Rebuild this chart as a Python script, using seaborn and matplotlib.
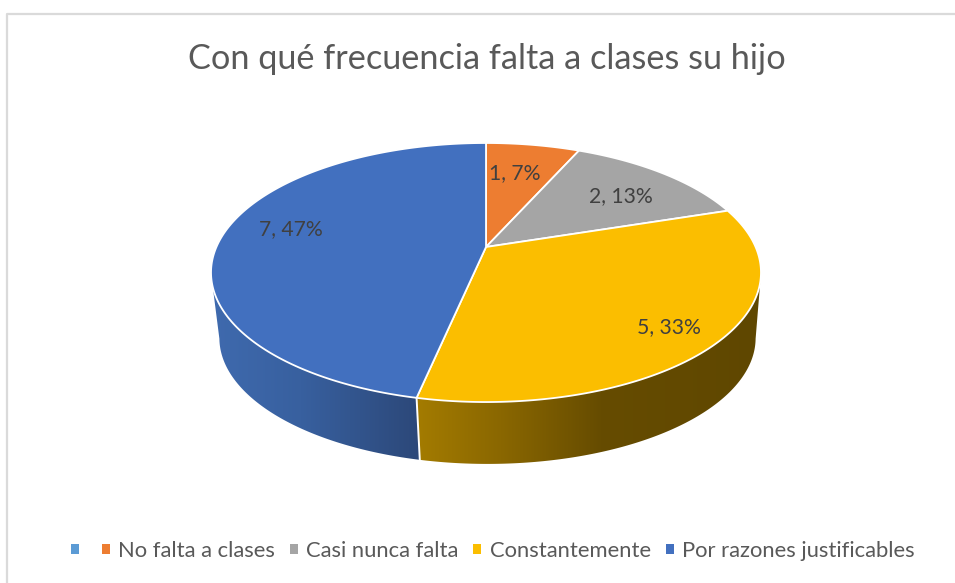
import numpy as np
import matplotlib
matplotlib.use('Agg')
import matplotlib.pyplot as plt
from matplotlib.colors import to_rgb
from matplotlib.patches import Patch, Polygon
import seaborn as sns

# Data
categories = ['', 'No falta a clases', 'Casi nunca falta', 'Constantemente', 'Por razones justificables']
counts = [0, 1, 2, 5, 7]
title = 'Con qué frecuencia falta a clases su hijo'

# Colours
palette = sns.color_palette(['#5B9BD5', '#ED7D31', '#A5A5A5', '#FBBE00', '#4270BF'])
text_color = '#404040'
title_color = '#595959'
frame_color = '#DADADA'

# Side wall shading, (x pixel, colour) stops; other slices are hidden behind the top
wall_shades = {
    3: [(418, '#A37B00'), (500, '#8A6700'), (600, '#664C00'), (760, '#5F4700')],
    4: [(212, '#3F6AAE'), (300, '#38609F'), (418, '#2C4879')],
}

# Label positions on the pie, in pixels
label_pos = {1: (515, 173), 2: (621, 196), 3: (669, 327), 4: (291, 229)}

sns.set_theme(style='white')
plt.rcParams['font.family'] = ['Lato', 'DejaVu Sans']

fig = plt.figure(figsize=(9.55, 5.83), dpi=100)
ax = fig.add_axes([0, 0, 1, 1])
ax.axis('off')

TILT = 0.197


# Perspective view of the disc: angle measured clockwise from 12 o'clock
def top_rim(theta):
    u, v = np.sin(theta), np.cos(theta)
    d = 1 + TILT * v
    return 486 + 269.6 * u / d, (247 - 75.84 * v) / d


def bottom_rim(theta):
    x, y = top_rim(theta)
    return 486 + 0.975 * (x - 486) + 1.5, 338 + 0.972 * (y - 272.5)


# Chart frame, cut by the picture on the right and at the bottom
ax.plot([7, 7, 955], [583, 14, 14], color=frame_color, lw=1.6, zorder=1)

total = sum(counts)
edges = np.cumsum([0] + counts) / total * 2 * np.pi

# Side walls first: a horizontal gradient clipped to the wall outline
for i, stops in wall_shades.items():
    th = np.linspace(edges[i], edges[i + 1], 300)
    # only the part in front of the widest point of the rim shows
    th = th[np.cos(th) < -TILT]
    xt, yt = top_rim(th)
    xb, yb = bottom_rim(th)
    outline = Polygon(np.c_[np.r_[xt, xb[::-1]], np.r_[yt, yb[::-1]]], closed=True,
                      transform=ax.transData, facecolor='none', edgecolor='none')
    ax.add_patch(outline)
    stop_x = [s[0] for s in stops]
    stop_rgb = np.array([to_rgb(s[1]) for s in stops])
    grad_x = np.arange(200, 770)
    grad = np.stack([np.interp(grad_x, stop_x, stop_rgb[:, k]) for k in range(3)], axis=-1)
    img = ax.imshow(grad[np.newaxis, :, :], extent=(200, 770, 480, 250), aspect='auto',
                    interpolation='bilinear', zorder=2)
    img.set_clip_path(outline)

# White seam between the two visible walls
seam = edges[4]
ax.plot([top_rim(seam)[0], bottom_rim(seam)[0]], [top_rim(seam)[1], bottom_rim(seam)[1]],
        color='white', lw=1.4, zorder=3)

# Top faces
for i, n in enumerate(counts):
    if n == 0:
        continue
    th = np.linspace(edges[i], edges[i + 1], 200)
    xs, ys = top_rim(th)
    ax.fill(np.r_[486, xs], np.r_[247, ys], facecolor=palette[i], edgecolor='white',
            lw=1.3, joinstyle='round', zorder=4)
    ax.text(*label_pos[i], f'{n}, {round(100 * n / total)}%', color=text_color,
            fontsize=15.2, ha='center', va='center', zorder=5)

ax.set_xlim(0, 955)
ax.set_ylim(583, 0)

ax.text(486.5, 59, title, color=title_color, fontsize=24.7, ha='center', va='center')

handles = [Patch(facecolor=c, edgecolor='none') for c in palette]
ax.legend(handles, categories, ncol=5, loc='center', bbox_to_anchor=(492.5, 551),
          bbox_transform=ax.transData, frameon=False, fontsize=15.8, labelcolor=title_color,
          handlelength=0.37, handleheight=0.37, handletextpad=0.37,
          columnspacing=0.68, borderpad=0, borderaxespad=0)

fig.savefig('out.png', dpi=100, facecolor='white')
